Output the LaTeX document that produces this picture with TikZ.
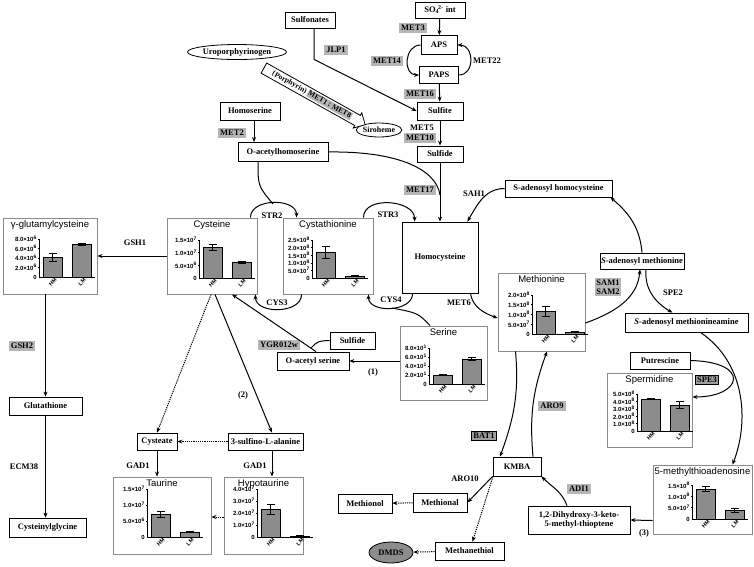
\documentclass[tikz,border=0pt]{standalone}
\usepackage{fontspec}
\setmainfont{Liberation Serif}
\setsansfont{Liberation Sans}
\usetikzlibrary{arrows.meta,shapes.geometric,shapes.arrows}
\definecolor{enzGray}{HTML}{B6B6B6}
\definecolor{enzDark}{HTML}{9E9E9E}
\definecolor{barGray}{HTML}{8C8C8C}
\definecolor{frameGray}{HTML}{8A8A8A}
\newcommand{\metfont}{\bfseries\fontsize{8.5}{9.5}\selectfont}
\newcommand{\scin}[2]{#1×10\textsuperscript{#2}}
\tikzset{
  metbox/.style={draw, line width=0.8pt, fill=white, font=\metfont, inner sep=1pt, minimum height=17pt},
  metoval/.style={metbox, ellipse, inner sep=0pt},
  chartbox/.style={draw=frameGray, line width=0.9pt, fill=white},
  charttitle/.style={font=\sffamily\fontsize{9.5}{10}\selectfont, anchor=north, inner sep=0pt, yshift=-3pt},
  enz/.style={fill=enzGray, font=\metfont, inner sep=2pt},
  enzbox/.style={enz, fill=enzDark, draw, line width=1pt},
  lab/.style={font=\metfont, inner sep=1pt},
  arr/.style={-{Stealth[length=5pt,width=4pt]}, line width=1pt},
  dotarr/.style={arr, dash pattern=on 1.2pt off 1pt},
  link/.style={line width=1pt},
  axisline/.style={line width=0.6pt},
  bar/.style={fill=barGray, draw=black, line width=0.6pt},
  errbar/.style={line width=0.8pt},
  ticklab/.style={anchor=east, xshift=-2pt, inner sep=0pt, font=\sffamily\bfseries\fontsize{6}{6}\selectfont},
  barlab/.style={anchor=east, rotate=45, inner sep=0pt, font=\sffamily\bfseries\fontsize{5.5}{6}\selectfont},
  porph/.style={single arrow, draw, fill=white, line width=0.8pt, single arrow head extend=3pt,
    minimum height=116pt, inner sep=1.5pt, font=\bfseries\fontsize{7.5}{8}\selectfont}
}
% #1 axis x, #2 base y, #3 tick step, #4 tick labels, #5/#6 HM top/error, #7/#8 LM top/error, #9 name
\newcommand{\barplot}[9]{%
  \draw[axisline] (#1,#2) -- ++(56,0);
  \node[ticklab] (#9-t0) at (#1,#2) {0};
  \foreach \lab [count=\i] in {#4}{%
    \draw[axisline] (#1,{#2-(\i-1)*#3}) -- (#1,{#2-\i*#3}) -- ++(-1.5,0);
    \node[ticklab] (#9-t\i) at (#1,{#2-\i*#3}) {\lab};
  }
  \filldraw[bar] (#1+4,#2) rectangle (#1+23,#5);
  \filldraw[bar] (#1+33,#2) rectangle (#1+52,#7);
  \draw[errbar] (#1+13.5,#5-#6) -- (#1+13.5,#5+#6)
    (#1+9.5,#5-#6) -- (#1+17.5,#5-#6) (#1+9.5,#5+#6) -- (#1+17.5,#5+#6);
  \draw[errbar] (#1+42.5,#7-#8) -- (#1+42.5,#7+#8)
    (#1+38.5,#7-#8) -- (#1+46.5,#7-#8) (#1+38.5,#7+#8) -- (#1+46.5,#7+#8);
  \node[barlab] (#9-hm) at (#1+17,#2+2) {HM};
  \node[barlab] (#9-lm) at (#1+46,#2+2) {LM};
}

\begin{document}
\begin{tikzpicture}[x=1pt,y=-1pt]
  \useasboundingbox (0,0) rectangle (754,566);

  % sulfate assimilation
  \node[metbox, minimum width=50pt, minimum height=16pt] (so4) at (440,10) {SO\rlap{\textsubscript{4}}\kern2.5pt\textsuperscript{2-} int};
  \node[metbox, minimum width=50pt, minimum height=16pt] (sulfonates) at (310,20) {Sulfonates};
  \node[metbox, minimum width=36pt, minimum height=19pt] (aps) at (439,45) {APS};
  \node[metbox, minimum width=39pt] (paps) at (439,75) {PAPS};
  \node[metbox, minimum width=46pt, minimum height=18pt] (sulfite) at (440,111) {Sulfite};
  \node[metbox, minimum width=46pt, minimum height=16pt] (sulfide) at (440,154) {Sulfide};
  \node[metoval, minimum width=99pt, minimum height=15pt] (uro) at (237,52) {Uroporphyrinogen};
  \node[metoval, minimum width=43pt, minimum height=14pt, font=\bfseries\fontsize{8}{9}\selectfont] (siroheme) at (379,130) {Siroheme};
  \node[porph, rotate=-29.2] (porph) at (312,95) {(Porphyrin) {\fboxsep=0.8pt\colorbox{enzGray}{MET1 ; MET8}}};
  \node[metbox, minimum width=60pt, minimum height=18pt] (homoserine) at (250,111) {Homoserine};
  \node[metbox, minimum width=90pt, minimum height=19pt] (oah) at (283,152) {O-acetylhomoserine};

  \node[enz] (met3) at (413,28) {MET3};
  \node[enz] (jlp1) at (336,50) {JLP1};
  \node[enz] (met14) at (387,61) {MET14};
  \node[lab] (met22) at (487,61) {MET22};
  \node[enz] (met16) at (420,94) {MET16};
  \node[lab] (met5) at (422,128) {MET5};
  \node[enz] (met10) at (420,138) {MET10};
  \node[enz] (met2) at (232,133) {MET2};
  \node[enz] (met17) at (420,190) {MET17};

  % central metabolites
  \node[metbox, minimum width=76pt, minimum height=71pt] (homocys) at (440,257.5) {Homocysteine};
  \node[metbox, minimum width=107pt] (sah) at (558.5,188.5) {S-adenosyl homocysteine};
  \node[metbox, minimum width=82pt, minimum height=16pt] (sam) at (642,261) {\textit{S}-adenosyl methionine};
  \node[metbox, minimum width=123pt, minimum height=19pt] (samine) at (686.5,322.5) {\textit{S}-adenosyl methionineamine};
  \node[metbox, minimum width=60pt] (put) at (660,360.5) {Putrescine};
  \node[metbox, minimum width=102pt, minimum height=28pt, align=center] (dih) at (579,520) {1,2-Dihydroxy-3-keto-\\5-methyl-thioptene};
  \node[metbox, minimum width=48pt, minimum height=19pt] (kmba) at (517,466.5) {KMBA};
  \node[metbox, minimum width=54pt, minimum height=19pt] (methional) at (440,502.5) {Methional};
  \node[metbox, minimum width=54pt, minimum height=19pt] (methionol) at (365,503.5) {Methionol};
  \node[metbox, minimum width=69pt, minimum height=18pt] (meththiol) at (469.5,551) {Methanethiol};
  \node[metoval, fill=barGray, minimum width=44pt, minimum height=21pt] (dmds) at (391,552.5) {DMDS};
  \node[metbox, minimum width=72pt, minimum height=18pt] (oas) at (313,361) {O-acetyl serine};
  \node[metbox, minimum width=45pt] (sulf2) at (352.5,340.5) {Sulfide};
  \node[metbox, minimum width=40pt] (cysteate) at (157,441.5) {Cysteate};
  \node[metbox, minimum width=75pt] (sulfino) at (265.5,441.5) {3-sulfino-L-alanine};
  \node[metbox, minimum width=73pt, minimum height=18pt] (glut) at (45.5,406) {Glutathione};
  \node[metbox, minimum width=77pt, minimum height=19pt] (cysgly) at (47.5,527.5) {Cysteinylglycine};

  % charts
  \node[chartbox, minimum width=94pt, minimum height=76pt] (gam) at (50,256) {};
  \node[charttitle] (gamtitle) at (gam.north) {γ-glutamylcysteine};
  \barplot{39}{277}{9.5}{\scin{2.0}{6},\scin{4.0}{6},\scin{6.0}{6},\scin{8.0}{6}}{257}{4}{244}{1}{gam}

  \node[chartbox, minimum width=90pt, minimum height=76pt] (cys) at (212,256) {};
  \node[charttitle] (cystitle) at (cys.north) {Cysteine};
  \barplot{199}{278}{12.7}{\scin{5.0}{6},\scin{1.0}{7},\scin{1.5}{7}}{247}{3}{262}{1}{cys}

  \node[chartbox, minimum width=90pt, minimum height=76pt] (cysta) at (328,256) {};
  \node[charttitle] (cystatitle) at (cysta.north) {Cystathionine};
  \barplot{312}{278}{7.6}{\scin{5.0}{7},\scin{1.0}{8},\scin{1.5}{8},\scin{2.0}{8},\scin{2.5}{8}}{252}{6}{276}{0.8}{cysta}

  \node[chartbox, minimum width=87pt, minimum height=74pt] (serine) at (443.5,363) {};
  \node[charttitle] (serinetitle) at (serine.north) {Serine};
  \barplot{429}{384}{9}{\scin{2.0}{1},\scin{4.0}{1},\scin{6.0}{1},\scin{8.0}{1}}{375}{0.8}{359}{1.2}{serine}

  \node[chartbox, minimum width=87pt, minimum height=78pt] (meth) at (541.5,312) {};
  \node[charttitle] (methtitle) at (meth.north) {Methionine};
  \barplot{532}{334}{9.75}{\scin{5.0}{7},\scin{1.0}{8},\scin{1.5}{8},\scin{2.0}{8}}{311}{5}{332}{0.6}{meth}

  \node[chartbox, minimum width=85pt, minimum height=74pt] (sperm) at (649.5,410) {};
  \node[charttitle] (spermtitle) at (sperm.north) {Spermidine};
  \barplot{637}{431}{7.4}{\scin{1.0}{8},\scin{2.0}{8},\scin{3.0}{8},\scin{4.0}{8},\scin{5.0}{8}}{399}{0.8}{405}{3.5}{sperm}

  \node[chartbox, minimum width=99pt, minimum height=69pt] (mta) at (702.5,499.5) {};
  \node[charttitle] (mtatitle) at (mta.north) {5-methylthioadenosine};
  \barplot{692}{519}{11.3}{\scin{5.0}{7},\scin{1.0}{8},\scin{1.5}{8}}{489}{2.5}{510}{2}{mta}

  \node[chartbox, minimum width=98pt, minimum height=77pt] (taurine) at (162,515.5) {};
  \node[charttitle] (taurinetitle) at (taurine.north) {Taurine};
  \barplot{147}{537}{16}{\scin{5.0}{6},\scin{1.0}{7},\scin{1.5}{7}}{514}{3}{532}{0.7}{taurine}

  \node[chartbox, minimum width=79pt, minimum height=77pt] (hypo) at (263.5,515.5) {};
  \node[charttitle] (hypotitle) at (hypo.north) {Hypotaurine};
  \barplot{257}{537}{12}{\scin{1.0}{7},\scin{2.0}{7},\scin{3.0}{7},\scin{4.0}{7}}{509}{5}{536}{0.5}{hypo}

  % enzyme labels
  \node[lab] (sah1) at (474,194) {SAH1};
  \node[lab] (str2) at (272,216) {STR2};
  \node[lab] (str3) at (388,215) {STR3};
  \node[lab] (cys3) at (277,303) {CYS3};
  \node[lab] (cys4) at (391,300) {CYS4};
  \node[lab] (met6) at (459,303) {MET6};
  \node[lab] (gsh1) at (135,243) {GSH1};
  \node[enz] (gsh2) at (22,346) {GSH2};
  \node[lab] (ecm38) at (24,467) {ECM38};
  \node[lab] (gad1a) at (138,466) {GAD1};
  \node[lab] (gad1b) at (255,466) {GAD1};
  \node[enz] (ygr) at (279,345) {YGR012w};
  \node[lab] (step1) at (373,372) {(1)};
  \node[lab] (step2) at (243,395) {(2)};
  \node[lab] (step3) at (644,533) {(3)};
  \node[enz, align=center, inner sep=1.5pt] (sam12) at (608,287) {SAM1\\SAM2};
  \node[lab] (spe2) at (673,293) {SPE2};
  \node[enzbox] (spe3) at (707,380) {SPE3};
  \node[enzbox] (bat1) at (484,436) {BAT1};
  \node[enz] (aro9) at (552,406) {ARO9};
  \node[enz] (adi1) at (579,489) {ADI1};
  \node[lab] (aro10) at (465,479) {ARO10};

  % sulfate to homocysteine
  \draw[arr] (so4) -- (aps);
  \draw[arr] (aps.west) to[out=180,in=180,looseness=1.4] (paps.west);
  \draw[arr] (paps.east) to[out=0,in=0,looseness=1.4] (aps.east);
  \draw[arr] (paps) -- (sulfite);
  \draw[arr] (sulfite) -- (sulfide);
  \draw[arr] ([xshift=4pt]sulfonates.south) -- ++(0,31) -- (sulfite.west);
  \draw[arr] (sulfide) -- (homocys);
  \coordinate (j17) at (440,195);
  \draw[link] (oah.east) .. controls (395,151) and (436,168) .. (j17);
  \draw[arr] ([xshift=4pt]homoserine.south) -- ([xshift=4pt]homoserine.south |- oah.north);

  % transsulfuration
  \draw[arr] ([xshift=-7pt]cys.north east) to[out=90,in=90,looseness=1.1] ([xshift=14pt]cysta.north west);
  \coordinate (str2top) at (273,204);
  \draw[link] ([xshift=-25pt]oah.south) .. controls (258,186) .. (str2top);
  \draw[arr] ([xshift=-10pt]cysta.north east) to[out=90,in=90,looseness=1.1] ([xshift=13pt]homocys.north west);
  \draw[arr] ([xshift=19pt]cysta.south west) to[out=-90,in=-90,looseness=1.1] ([xshift=-2pt]cys.south east);
  \draw[arr] ([xshift=11pt]homocys.south west) to[out=-90,in=-90,looseness=1.1] ([xshift=-5pt]cysta.south east);
  \coordinate (cys4low) at (392,308);
  \draw[link] ([xshift=-13.5pt]serine.north) .. controls (418,313) .. (cys4low);
  \draw[arr] ([xshift=-8pt]homocys.south east) to[out=-80,in=160] ([yshift=-6pt]meth.west);

  % glutathione branch
  \draw[arr] (cys.west) -- (gam.east);
  \draw[arr] (gam.south -| glut.north) -- (glut.north);
  \draw[arr] (glut.south) -- (glut.south |- cysgly.north);

  % cysteine degradation
  \draw[dotarr] ([xshift=-1pt]cys.south) -- (cysteate.north);
  \draw[arr] ([xshift=3pt]cys.south) -- ([xshift=6.5pt]sulfino.north);
  \draw[dotarr] (sulfino) -- (cysteate);
  \draw[arr] (cysteate.south) -- (cysteate.south |- taurine.north);
  \draw[arr] ([xshift=6.5pt]sulfino.south) -- ([xshift=6.5pt]sulfino.south |- hypo.north);
  \draw[dotarr] ([yshift=-1.5pt]hypo.west) -- ([yshift=-1.5pt]hypo.west -| taurine.east);

  % serine to cysteine
  \draw[arr] (serine.west |- oas.east) -- (oas.east);
  \draw[arr] ([xshift=3pt]oas.north) -- ([xshift=20pt]cys.south);
  \coordinate (sulfjoin) at (311,348);
  \draw[link] (sulf2.west) .. controls (318,341) .. (sulfjoin);

  % methionine cycle and salvage
  \draw[arr] (sah.west) to[out=180,in=60] ([xshift=-11pt]homocys.north east);
  \draw[arr] ([yshift=-11pt]meth.east) to[out=20,in=-95] ([xshift=-2pt]sam.south);
  \draw[arr] (sam.north) to[out=95,in=-40] ([xshift=-2pt]sah.south east);
  \draw[arr] ([xshift=4pt]sam.south) to[out=-95,in=150] ([xshift=-14pt]samine.north);
  \draw[arr] ([xshift=14pt]samine.south) .. controls (748,365) and (748,425) .. ([xshift=30pt]mta.north);
  \draw[arr] (put.east) .. controls (752,362) and (742,397) .. ([yshift=13pt]sperm.east);
  \draw[arr] ([yshift=-21pt]mta.west) -- (dih.east);
  \draw[arr] ([xshift=-12pt]dih.north) to[out=110,in=-45] (kmba.south east);
  \draw[arr] ([xshift=-26pt]meth.south) to[out=-85,in=70] ([xshift=-17pt]kmba.north);
  \draw[arr] ([xshift=16pt]kmba.north) to[out=95,in=-110] ([xshift=5.5pt]meth.south);
  \draw[arr] (kmba.south west) -- (methional.east);
  \draw[dotarr] (methional) -- (methionol);
  \draw[dotarr] ([xshift=-24pt]kmba.south) -- ([xshift=3pt]meththiol.north);
  \draw[dotarr] (meththiol) -- (dmds);
\end{tikzpicture}
\end{document}
